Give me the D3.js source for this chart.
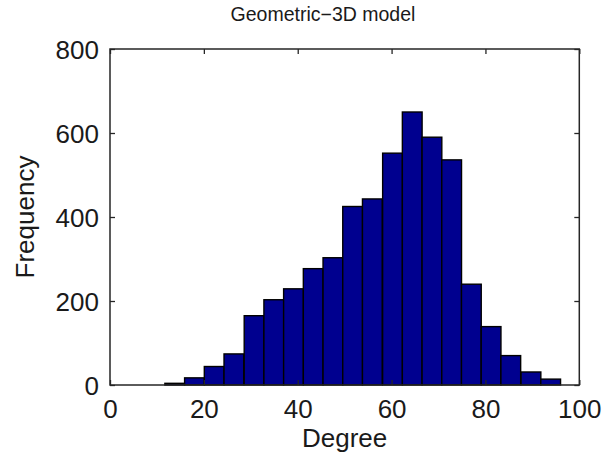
<!DOCTYPE html>
<html>
<head>
<meta charset="utf-8">
<script src="https://cdn.jsdelivr.net/npm/d3@7"></script>
<style>
  html, body { margin: 0; padding: 0; background: #fff; }
  svg { display: block; font-family: "Liberation Sans", Arial, Helvetica, sans-serif; }
</style>
</head>
<body>
<svg id="chart" width="605" height="459"></svg>
<script>
// Histogram of node degree, 20 equal-width bins
const binCenters = [13.8, 18.0, 22.2, 26.4, 30.7, 34.9, 39.1, 43.3, 47.5, 51.7,
                    55.9, 60.2, 64.4, 68.6, 72.8, 77.0, 81.2, 85.4, 89.7, 93.9];
const binWidth = 4.21;
const frequencies = [4, 17, 44, 74, 165, 203, 229, 277, 303, 425,
                     443, 552, 650, 590, 536, 240, 139, 70, 31, 14];
const xTicks = [0, 20, 40, 60, 80, 100];
const yTicks = [0, 200, 400, 600, 800];

const title = "Geometric\u22123D model";
const xLabel = "Degree";
const yLabel = "Frequency";

const margin = { left: 110, top: 49, right: 25.7, bottom: 74 };
const W = 605, H = 459;
const iw = W - margin.left - margin.right;
const ih = H - margin.top - margin.bottom;

const svg = d3.select("#chart");
const g = svg.append("g").attr("transform", `translate(${margin.left},${margin.top})`);

const x = d3.scaleLinear().domain([0, 100]).range([0, iw]);
const y = d3.scaleLinear().domain([0, 800]).range([ih, 0]);

// bars
g.selectAll("rect.bar")
  .data(binCenters.map((c, i) => ({ c, f: frequencies[i] })))
  .join("rect")
  .attr("class", "bar")
  .attr("x", d => x(d.c - binWidth / 2))
  .attr("width", d => x(d.c + binWidth / 2) - x(d.c - binWidth / 2))
  .attr("y", d => y(d.f))
  .attr("height", d => y(0) - y(d.f))
  .attr("fill", "#00008f")
  .attr("stroke", "#000")
  .attr("stroke-width", 1.4);

const tickFont = 26;
const axisColor = "#262626";

function styleAxis(sel) {
  sel.select(".domain").remove();
  sel.selectAll(".tick line").attr("stroke", axisColor).attr("stroke-width", 1.3);
  sel.selectAll(".tick text")
    .attr("fill", "#1a1a1a")
    .style("font-size", tickFont + "px");
}

// bottom axis (inward ticks)
g.append("g")
  .attr("transform", `translate(0,${ih})`)
  .call(d3.axisBottom(x).tickValues(xTicks).tickSizeInner(-5).tickSizeOuter(0).tickPadding(15))
  .call(styleAxis);

// top axis ticks only
g.append("g")
  .call(d3.axisTop(x).tickValues(xTicks).tickSizeInner(-5).tickSizeOuter(0).tickFormat(""))
  .call(styleAxis);

// left axis
g.append("g")
  .call(d3.axisLeft(y).tickValues(yTicks).tickSizeInner(-5).tickSizeOuter(0).tickPadding(11))
  .call(styleAxis)
  .selectAll(".tick text").attr("dy", "0.38em");

// right axis ticks only
g.append("g")
  .attr("transform", `translate(${iw},0)`)
  .call(d3.axisRight(y).tickValues(yTicks).tickSizeInner(-5).tickSizeOuter(0).tickFormat(""))
  .call(styleAxis);

// frame
g.append("rect")
  .attr("x", 0).attr("y", 0)
  .attr("width", iw).attr("height", ih)
  .attr("fill", "none")
  .attr("stroke", axisColor)
  .attr("stroke-width", 1.5);

// title
svg.append("text")
  .attr("x", 323)
  .attr("y", 21)
  .attr("text-anchor", "middle")
  .attr("fill", "#1a1a1a")
  .style("font-size", "19.5px")
  .text(title);

// x label
svg.append("text")
  .attr("x", margin.left + iw / 2)
  .attr("y", 447)
  .attr("text-anchor", "middle")
  .attr("fill", "#1a1a1a")
  .style("font-size", "26px")
  .text(xLabel);

// y label
svg.append("text")
  .attr("transform", `translate(34,${margin.top + ih / 2}) rotate(-90)`)
  .attr("text-anchor", "middle")
  .attr("fill", "#1a1a1a")
  .style("font-size", "26px")
  .text(yLabel);
</script>
</body>
</html>
